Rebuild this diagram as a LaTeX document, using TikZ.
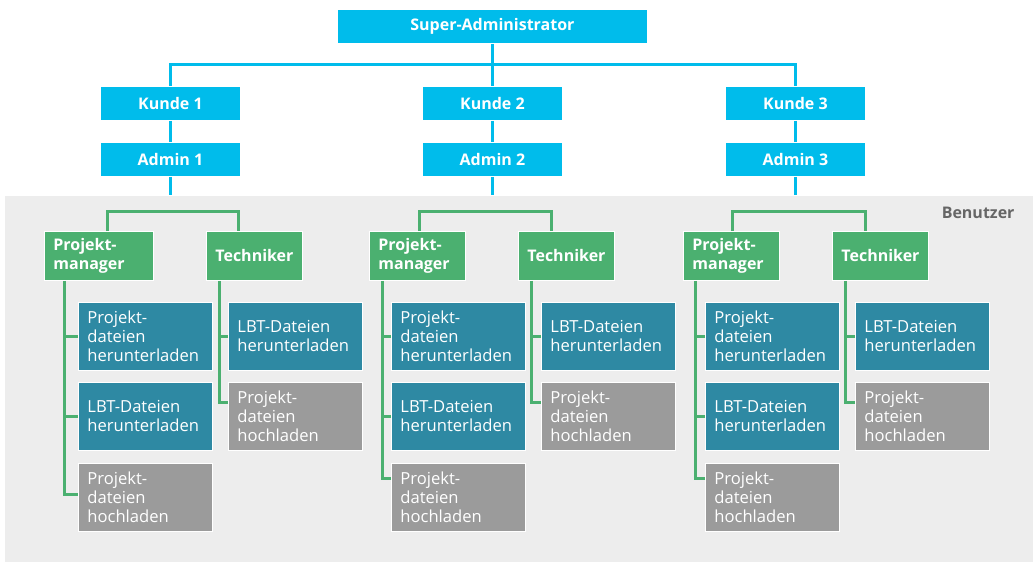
\documentclass[tikz,border=0pt]{standalone}
\usepackage{fontspec}
\setmainfont{Open Sans}
\usepackage{tikz}
\usetikzlibrary{calc}
\usepackage{xcolor}
\definecolor{admincyan}{RGB}{0,188,235}
\definecolor{rolegreen}{RGB}{75,176,112}
\definecolor{taskteal}{RGB}{46,137,163}
\definecolor{taskgray}{RGB}{155,155,155}
\definecolor{bandgray}{RGB}{237,237,237}
\definecolor{labelgray}{RGB}{102,102,102}
\tikzset{box/.style={rectangle, anchor=north west, draw=white, line width=0.8pt, text=white, inner ysep=0pt, inner xsep=9pt, font=\fontsize{16.6}{19}\selectfont}}
\tikzset{topbox/.style={box, fill=admincyan, minimum height=34pt, font=\fontsize{16}{19}\selectfont\bfseries}}
\tikzset{rolebox/.style={box, fill=rolegreen, minimum height=49pt, text width=78pt, align=left, font=\fontsize{16}{19}\selectfont\bfseries}}
\tikzset{taskbox/.style={box, fill=taskteal, minimum height=68pt, text width=116pt, align=left}}
\tikzset{uploadbox/.style={taskbox, fill=taskgray}}
\tikzset{cyanline/.style={draw=admincyan, line width=3pt}}
\tikzset{greenline/.style={draw=rolegreen, line width=3pt}}

\begin{document}
\begin{tikzpicture}[x=1pt, y=-1pt]
      \useasboundingbox (0,0) rectangle (1033,562);
      \fill[bandgray] (5,196) rectangle (1033,562);
      \node[anchor=east, text=labelgray, font=\fontsize{16}{19}\selectfont\bfseries] (benutzer) at (1018,213) {Benutzer};

      % Administratoren
      \node[topbox, minimum width=310pt] (super) at (337,9) {Super-Administrator};
      \node[topbox, minimum width=140pt] (kunde1) at (100,86) {Kunde 1};
      \node[topbox, minimum width=140pt] (admin1) at (100,142) {Admin 1};
      \node[topbox, minimum width=140pt] (kunde2) at (422,86) {Kunde 2};
      \node[topbox, minimum width=140pt] (admin2) at (422,142) {Admin 2};
      \node[topbox, minimum width=140pt] (kunde3) at (725,86) {Kunde 3};
      \node[topbox, minimum width=140pt] (admin3) at (725,142) {Admin 3};

      \draw[cyanline] (super.south) -- ++(0,21) coordinate (hub);
      \draw[cyanline] (kunde1.north) |- (hub) -| (kunde3.north);
      \draw[cyanline] (hub) -- (kunde2.north);
      \draw[cyanline] (kunde1.south) -- (admin1.north);
      \draw[cyanline] (kunde2.south) -- (admin2.north);
      \draw[cyanline] (kunde3.south) -- (admin3.north);
      \draw[cyanline] (admin1.south) -- ++(0,18);
      \draw[cyanline] (admin2.south) -- ++(0,18);
      \draw[cyanline] (admin3.south) -- ++(0,18);

      % Kunde 1
      \node[rolebox, text width=91pt] (pm1) at (44,231) {Projekt-\\manager};
      \node[rolebox] (tech1) at (206,231) {Techniker};
      \node[taskbox] (a1) at (78,302) {Projekt-\\dateien\\herunterladen};
      \node[taskbox] (b1) at (78,382) {LBT-Dateien\\herunterladen};
      \node[uploadbox] (c1) at (78,463) {Projekt-\\dateien\\hochladen};
      \node[taskbox] (d1) at (228,302) {LBT-Dateien\\herunterladen};
      \node[uploadbox] (e1) at (228,382) {Projekt-\\dateien\\hochladen};

      \draw[greenline] ($(pm1.north west)+(63,0)$) -- ++(0,-20) -| ($(tech1.north west)+(32,0)$);
      \coordinate (pm1v) at ($(pm1.south west)+(20,0)$);
      \coordinate (tech1v) at ($(tech1.south west)+(13,0)$);
      \draw[greenline] (pm1v) |- ($(c1.north west)+(0,31)$);
      \draw[greenline] (a1.west) -- (a1.west -| pm1v);
      \draw[greenline] (b1.west) -- (b1.west -| pm1v);
      \draw[greenline] (tech1v) |- ($(e1.north west)+(0,20)$);
      \draw[greenline] (d1.west) -- (d1.west -| tech1v);

      % Kunde 2
      \node[rolebox] (pm2) at (369,231) {Projekt-\\manager};
      \node[rolebox] (tech2) at (518,231) {Techniker};
      \node[taskbox] (a2) at (391,302) {Projekt-\\dateien\\herunterladen};
      \node[taskbox] (b2) at (391,382) {LBT-Dateien\\herunterladen};
      \node[uploadbox] (c2) at (391,463) {Projekt-\\dateien\\hochladen};
      \node[taskbox] (d2) at (541,302) {LBT-Dateien\\herunterladen};
      \node[uploadbox] (e2) at (541,382) {Projekt-\\dateien\\hochladen};

      \draw[greenline] ($(pm2.north west)+(50,0)$) -- ++(0,-20) -| ($(tech2.north west)+(33,0)$);
      \coordinate (pm2v) at ($(pm2.south west)+(13,0)$);
      \coordinate (tech2v) at ($(tech2.south west)+(13,0)$);
      \draw[greenline] (pm2v) |- ($(c2.north west)+(0,15)$);
      \draw[greenline] (a2.west) -- (a2.west -| pm2v);
      \draw[greenline] (b2.west) -- (b2.west -| pm2v);
      \draw[greenline] (tech2v) |- ($(e2.north west)+(0,20)$);
      \draw[greenline] (d2.west) -- (d2.west -| tech2v);

      % Kunde 3
      \node[rolebox] (pm3) at (683,231) {Projekt-\\manager};
      \node[rolebox] (tech3) at (832,231) {Techniker};
      \node[taskbox] (a3) at (705,302) {Projekt-\\dateien\\herunterladen};
      \node[taskbox] (b3) at (705,382) {LBT-Dateien\\herunterladen};
      \node[uploadbox] (c3) at (705,463) {Projekt-\\dateien\\hochladen};
      \node[taskbox] (d3) at (855,302) {LBT-Dateien\\herunterladen};
      \node[uploadbox] (e3) at (855,382) {Projekt-\\dateien\\hochladen};

      \draw[greenline] ($(pm3.north west)+(49,0)$) -- ++(0,-20) -| ($(tech3.north west)+(33,0)$);
      \coordinate (pm3v) at ($(pm3.south west)+(12,0)$);
      \coordinate (tech3v) at ($(tech3.south west)+(13,0)$);
      \draw[greenline] (pm3v) |- ($(c3.north west)+(0,15)$);
      \draw[greenline] (a3.west) -- (a3.west -| pm3v);
      \draw[greenline] (b3.west) -- (b3.west -| pm3v);
      \draw[greenline] (tech3v) |- ($(e3.north west)+(0,20)$);
      \draw[greenline] (d3.west) -- (d3.west -| tech3v);
    \end{tikzpicture}
\end{document}
